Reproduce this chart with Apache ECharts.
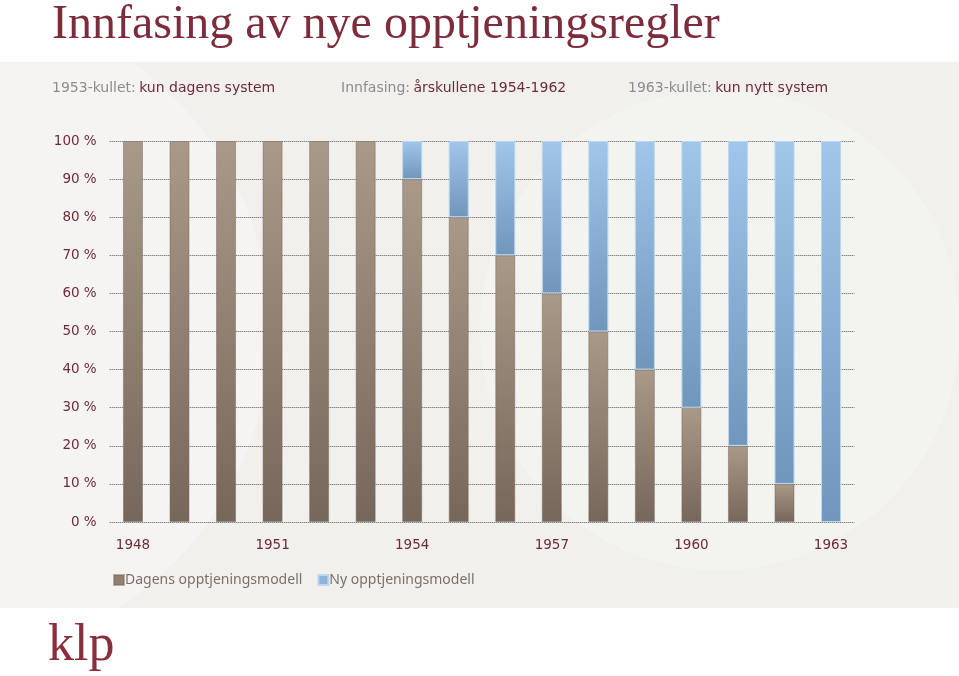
<!DOCTYPE html>
<html><head><meta charset="utf-8">
<script src="https://cdn.jsdelivr.net/npm/echarts@6/dist/echarts.min.js"></script>
<style>html,body{margin:0;padding:0;background:#fff}#c{width:959px;height:676px}</style>
</head><body><div id="c"></div>
<script>
const years = ['1948','1949','1950','1951','1952','1953','1954','1955','1956','1957','1958','1959','1960','1961','1962','1963'];
const dagens = [100,100,100,100,100,100,90,80,70,60,50,40,30,20,10,0];
const ny = [0,0,0,0,0,0,10,20,30,40,50,60,70,80,90,100];
const yTicks = [0,10,20,30,40,50,60,70,80,90,100];

const chart = echarts.init(document.getElementById('c'), null, {renderer:'canvas'});
const red = '#6e2b36';
const grayTxt = '#8c8c8c';
const sub = '14px "DejaVu Sans", sans-serif';
const nz = a => a.map(v => v === 0 ? '-' : v);
chart.setOption({
  backgroundColor: '#ffffff',
  animation: false,
  graphic: [
    {type:'rect', z:-10, shape:{x:0,y:62,width:959,height:546}, style:{fill:'#f1f0ec'}},
    {type:'circle', z:-9, shape:{cx:-60,cy:330,r:330}, style:{fill:'rgba(255,255,255,0.3)'}},
    {type:'circle', z:-9, shape:{cx:720,cy:330,r:240}, style:{fill:'rgba(255,255,255,0.2)'}},
    {type:'text', left:52, top:1, style:{text:'Innfasing av nye opptjeningsregler', font:'48px "Liberation Serif", serif', fill:'#7d2c3b'}},
    {type:'text', left:52, top:81, style:{text:'{g|1953-kullet:} {r|kun dagens system}', rich:{g:{fill:grayTxt, font:sub}, r:{fill:red, font:sub}}}},
    {type:'text', left:341, top:81, style:{text:'{g|Innfasing:} {r|årskullene 1954-1962}', rich:{g:{fill:grayTxt, font:sub}, r:{fill:red, font:sub}}}},
    {type:'text', left:628, top:81, style:{text:'{g|1963-kullet:} {r|kun nytt system}', rich:{g:{fill:grayTxt, font:sub}, r:{fill:red, font:sub}}}},
    {type:'text', left:48, top:620, style:{text:'klp', font:'52px "Liberation Serif", serif', fill:'#8b2e3c'}}
  ],
  grid: {left:109.7, right:104.7, top:141, bottom:154, containLabel:false},
  legend: {
    left:108, top:568, itemWidth:10, itemHeight:10, itemGap:15, icon:'rect',
    textStyle:{color:'#7a7068', fontSize:14, fontFamily:'"Noto Sans", sans-serif', padding:[0,0,0,-4]},
    data:[{name:'Dagens opptjeningsmodell', itemStyle:{color:'#8f8072'}}, {name:'Ny opptjeningsmodell', itemStyle:{color:'#8fb5dc'}}]
  },
  xAxis: {
    type:'category', data:years,
    axisLine:{show:false}, axisTick:{show:false},
    axisLabel:{interval:2, color:red, fontSize:13.5, fontFamily:'"DejaVu Sans", sans-serif', margin:16}
  },
  yAxis: {
    type:'value', min:0, max:100, interval:10,
    axisLine:{show:false}, axisTick:{show:false},
    axisLabel:{formatter: v => v + ' %', color:red, fontSize:13.5, fontFamily:'"DejaVu Sans", sans-serif', margin:13},
    splitLine:{lineStyle:{color:'#555555', type:[1,1], width:1}}
  },
  series: [
    {name:'Dagens opptjeningsmodell', type:'bar', stack:'a', barWidth:20, data:nz(dagens),
     itemStyle:{color:new echarts.graphic.LinearGradient(0,0,0,1,[{offset:0,color:'#a99988'},{offset:1,color:'#76675b'}]), borderColor:'rgba(120,105,95,0.5)', borderWidth:1}},
    {name:'Ny opptjeningsmodell', type:'bar', stack:'a', barWidth:20, data:nz(ny),
     itemStyle:{color:new echarts.graphic.LinearGradient(0,0,0,1,[{offset:0,color:'#a0c6ea'},{offset:1,color:'#7096bb'}]), borderColor:'#bcd6ef', borderWidth:1}}
  ]
});
</script></body></html>
